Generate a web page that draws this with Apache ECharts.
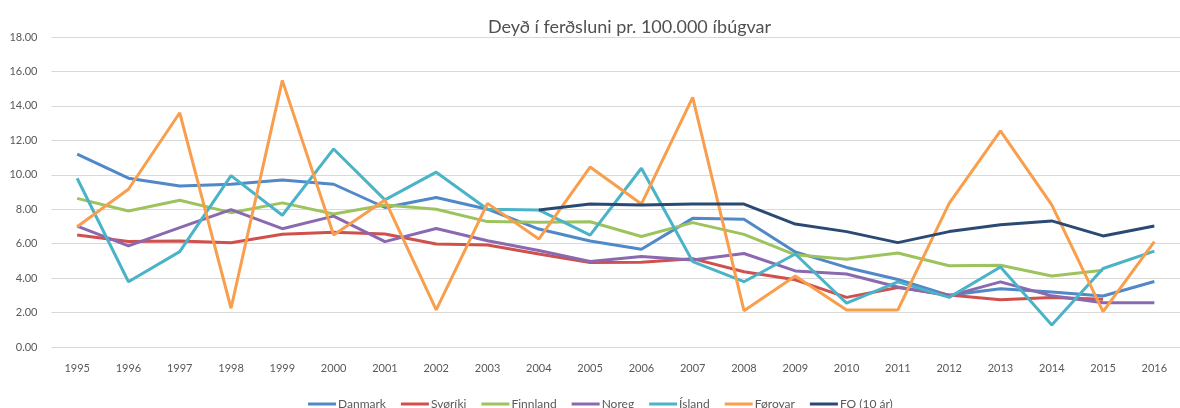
<!DOCTYPE html>
<html>
<head>
<meta charset="utf-8">
<script src="https://cdn.jsdelivr.net/npm/echarts@6/dist/echarts.min.js"></script>
<style>
  html, body { margin: 0; padding: 0; background: #fff; }
  #chart { width: 1180px; height: 408px; }
</style>
</head>
<body>
<div id="chart"></div>
<script>
const years = ["1995", "1996", "1997", "1998", "1999", "2000", "2001", "2002", "2003", "2004", "2005",
  "2006", "2007", "2008", "2009", "2010", "2011", "2012", "2013", "2014", "2015", "2016"];

const danmark = [11.2, 9.8, 9.35, 9.45, 9.7, 9.45, 8.1, 8.68, 8.0, 6.85, 6.15, 5.68, 7.47, 7.42, 5.52, 4.62, 3.92, 3.0, 3.38, 3.2, 2.96, 3.8];
const svoriki = [6.5, 6.12, 6.15, 6.05, 6.55, 6.66, 6.56, 5.98, 5.92, 5.4, 4.9, 4.92, 5.13, 4.37, 3.9, 2.88, 3.45, 3.02, 2.74, 2.88, 2.77, null];
const finnland = [8.63, 7.9, 8.52, 7.8, 8.37, 7.72, 8.25, 8.0, 7.28, 7.24, 7.27, 6.42, 7.22, 6.54, 5.35, 5.1, 5.46, 4.72, 4.75, 4.12, 4.45, null];
const noreg = [7.02, 5.87, 6.93, 7.98, 6.87, 7.6, 6.12, 6.88, 6.17, 5.6, 4.96, 5.25, 5.05, 5.43, 4.42, 4.24, 3.48, 2.97, 3.78, 2.97, 2.57, 2.57];
const island = [9.8, 3.79, 5.54, 9.95, 7.65, 11.5, 8.54, 10.15, 8.0, 7.96, 6.5, 10.38, 4.96, 3.79, 5.4, 2.55, 3.78, 2.88, 4.65, 1.28, 4.56, 5.57];
const foroyar = [6.98, 9.16, 13.6, 2.25, 15.48, 6.5, 8.54, 2.15, 8.34, 6.27, 10.45, 8.3, 14.5, 2.11, 4.12, 2.15, 2.15, 8.34, 12.55, 8.25, 2.05, 6.12];
const fo10 = [null, null, null, null, null, null, null, null, null, 7.96, 8.3, 8.25, 8.3, 8.3, 7.14, 6.7, 6.06, 6.7, 7.1, 7.32, 6.45, 7.03];

const yTicks = { min: 0, max: 18, interval: 2 };

const seriesDefs = [
  { name: "Danmark", data: danmark, color: "#5088C8" },
  { name: "Svøríki", data: svoriki, color: "#D0504D" },
  { name: "Finnland", data: finnland, color: "#9DC35E" },
  { name: "Noreg", data: noreg, color: "#8A69B0" },
  { name: "Ísland", data: island, color: "#4BB3C8" },
  { name: "Føroyar", data: foroyar, color: "#F89E4C" },
  { name: "FO (10 ár)", data: fo10, color: "#2B4A73" },
];

const chart = echarts.init(document.getElementById("chart"));

const option = {
  animation: false,
  textStyle: { fontFamily: "Lato" },
  title: {
    text: "Deyð í ferðsluni pr. 100.000 íbúgvar",
    left: 483,
    top: 13,
    textStyle: { color: "#505050", fontSize: 18, fontWeight: "normal", fontFamily: "Lato" },
  },
  legend: {
    left: 303,
    top: 393,
    itemWidth: 28,
    itemHeight: 3,
    itemGap: 15,
    icon: "rect",
    textStyle: { color: "#595959", fontSize: 12, padding: [0, 0, 0, -3] },
    data: seriesDefs.map((s) => s.name),
  },
  grid: {
    left: 51.5,
    right: -13,
    top: 37,
    bottom: 61,
    containLabel: false,
  },
  xAxis: {
    type: "category",
    data: years,
    boundaryGap: true,
    axisLine: { show: false },
    axisTick: { show: false },
    axisLabel: { color: "#595959", fontSize: 11, margin: 16, interval: 0 },
    splitLine: { show: false },
  },
  yAxis: {
    type: "value",
    min: yTicks.min,
    max: yTicks.max,
    interval: yTicks.interval,
    axisLine: { show: false },
    axisTick: { show: false },
    axisLabel: {
      color: "#595959",
      fontSize: 11,
      margin: 14,
      formatter: (v) => v.toFixed(2),
    },
    splitLine: { show: true, lineStyle: { color: "#D9D9D9", width: 1 } },
  },
  series: seriesDefs.map((s) => ({
    name: s.name,
    type: "line",
    data: s.data,
    symbol: "none",
    smooth: false,
    connectNulls: false,
    itemStyle: { color: s.color },
    lineStyle: { color: s.color, width: 3 },
  })),
};

chart.setOption(option);
</script>
</body>
</html>
